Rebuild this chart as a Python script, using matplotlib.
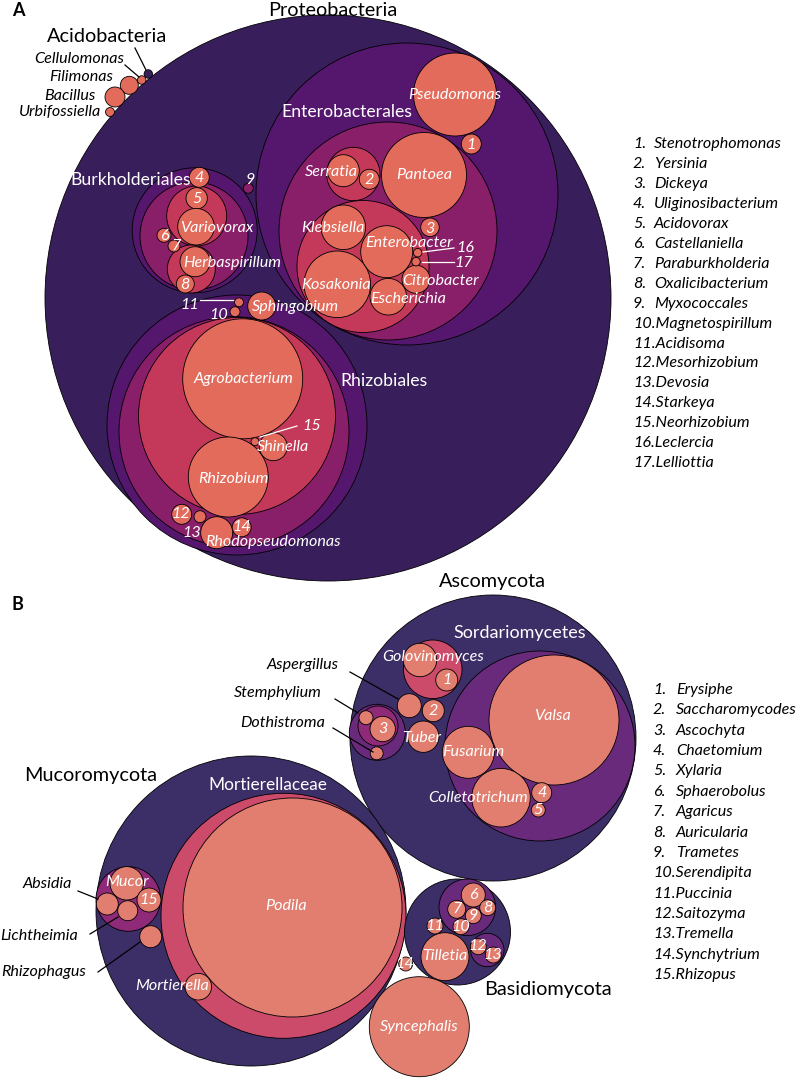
import numpy as np
import matplotlib
matplotlib.use("Agg")
import matplotlib.pyplot as plt
from matplotlib.patches import Circle

plt.rcParams['font.family'] = ['Lato', 'DejaVu Sans']

# ---------------- DATA (abundance ~ circle area) ----------------
A_taxa = ["Proteobacteria", "Enterobacterales", "Enterobacteriaceae_grp", "Pseudomonas", "1",
          "Serratia_grp", "Serratia", "2", "Pantoea", "3", "Entero_grp", "Klebsiella", "Enterobacter",
          "Kosakonia", "Escherichia", "Citrobacter", "16", "17",
          "Burkholderiales", "Burk_inner", "Comamonad_grp", "5", "Variovorax", "Oxalo_grp",
          "Herbaspirillum", "8", "4", "6", "7", "9",
          "Rhizobiales", "Rhizo_mid", "Rhizo_inner", "Agrobacterium", "Rhizobium", "Shinella", "15",
          "12", "13", "Rhodopseudomonas", "14", "Sphingobium", "10", "11",
          "Acidobacteria", "Cellulomonas", "Filimonas", "Bacillus", "Urbifossiella"]
A_rank = ["phylum", "order", "family", "genus", "genus",
          "group", "genus", "genus", "genus", "genus", "group", "genus", "genus",
          "genus", "genus", "genus", "genus", "genus",
          "order", "family", "group", "genus", "genus", "group",
          "genus", "genus", "genus", "genus", "genus", "family",
          "order", "family", "group", "genus", "genus", "genus", "genus",
          "genus", "genus", "genus", "genus", "genus", "genus", "genus",
          "phylum", "genus", "genus", "genus", "genus"]
A_abund = [800.9, 228.0, 118.8, 17.22, 1.0,
           7.13, 2.56, 1.0, 18.06, 0.86, 43.56, 4.97, 6.76,
           11.09, 3.35, 1.96, 0.18, 0.18,
           39.06, 29.16, 9.0, 1.14, 3.35, 5.76,
           2.25, 0.81, 1.0, 0.49, 0.36, 0.25,
           169.0, 132.25, 97.0, 36.0, 16.0, 1.96, 0.16,
           1.0, 0.36, 2.56, 0.9, 1.96, 0.25, 0.2,
           0.18, 0.18, 0.81, 1.0, 0.2]

B_taxa = ["Ascomycota", "Sordariomycetes", "Valsa", "Fusarium", "Colletotrichum", "4", "5",
          "Erysiph_grp", "Golovinomyces", "1", "Aspergillus", "2", "Tuber",
          "Dothideo_grp", "Dothideo_inner", "3", "Stemphylium", "Dothistroma",
          "Mucoromycota", "Mortierellaceae", "Podila", "Mortierella", "Mucorales",
          "Mucor", "15", "Absidia", "Lichtheimia", "Rhizophagus",
          "Basidiomycota", "Agaricomycetes", "6", "7", "8", "9", "10", "11",
          "Tilletia", "Tremellomycetes", "12", "13", "14", "Syncephalis"]
B_rank = ["phylum", "class", "genus", "genus", "genus", "genus", "genus",
          "family", "genus", "genus", "genus", "genus", "genus",
          "class", "order", "genus", "genus", "genus",
          "phylum", "family", "genus", "genus", "order",
          "genus", "genus", "genus", "genus", "genus",
          "phylum", "class", "genus", "genus", "genus", "genus", "genus", "genus",
          "genus", "class", "genus", "genus", "genus", "genus"]
B_abund = [204.5, 90.25, 42.25, 6.76, 8.58, 1.0, 0.49,
           8.58, 2.79, 1.21, 1.44, 1.21, 2.46,
           7.84, 4.0, 1.61, 0.49, 0.42,
           240.25, 150.06, 119.9, 1.77, 10.43,
           2.79, 1.44, 1.21, 1.0, 1.21,
           28.09, 8.01, 1.44, 0.81, 0.64, 0.64, 0.64, 0.64,
           5.76, 2.79, 0.64, 0.64, 0.49, 25.0]

A_legend = ["Stenotrophomonas", "Yersinia", "Dickeya", "Uliginosibacterium", "Acidovorax",
            "Castellaniella", "Paraburkholderia", "Oxalicibacterium", "Myxococcales",
            "Magnetospirillum", "Acidisoma", "Mesorhizobium", "Devosia", "Starkeya",
            "Neorhizobium", "Leclercia", "Lelliottia"]
B_legend = ["Erysiphe", "Saccharomycodes", "Ascochyta", "Chaetomium", "Xylaria",
            "Sphaerobolus", "Agaricus", "Auricularia", "Trametes", "Serendipita",
            "Puccinia", "Saitozyma", "Tremella", "Synchytrium", "Rhizopus"]

# ---------------- LAYOUT (packing centres, pixel space) ----------------
A_centre = {
    "Proteobacteria": (328, 298), "Enterobacterales": (407, 194), "Enterobacteriaceae_grp": (388, 231),
    "Pseudomonas": (455, 94.5), "1": (471.3, 144), "Serratia_grp": (353.3, 174), "Serratia": (343.3, 170.7),
    "2": (369.3, 179.3), "Pantoea": (424, 175), "3": (430, 227.3), "Entero_grp": (363, 266.5),
    "Klebsiella": (343.3, 227.3), "Enterobacter": (386.7, 251.7), "Kosakonia": (337.3, 284.3),
    "Escherichia": (388.3, 296.7), "Citrobacter": (416, 279.3), "16": (417.7, 252.7), "17": (416, 261.7),
    "Burkholderiales": (194.7, 230.3), "Burk_inner": (194, 236), "Comamonad_grp": (196.7, 216),
    "5": (196.7, 198.3), "Variovorax": (196, 226.7), "Oxalo_grp": (191.3, 269), "Herbaspirillum": (195, 261.7),
    "8": (185.3, 284), "4": (199.3, 177.3), "6": (164, 235.3), "7": (174, 246), "9": (248.3, 188.3),
    "Rhizobiales": (237, 425), "Rhizo_mid": (234, 431.7), "Rhizo_inner": (237, 416),
    "Agrobacterium": (242.7, 378.8), "Rhizobium": (228.3, 477), "Shinella": (273.3, 446.7), "15": (255, 441.7),
    "12": (181.7, 514.3), "13": (200, 516.7), "Rhodopseudomonas": (216.7, 532.7), "14": (241.7, 527.3),
    "Sphingobium": (261.7, 306), "10": (235, 311.7), "11": (239, 302.3),
    "Acidobacteria": (148.3, 74), "Cellulomonas": (141.7, 80), "Filimonas": (129.3, 85.3),
    "Bacillus": (115, 97), "Urbifossiella": (110, 112),
}
B_centre = {
    "Ascomycota": (493, 738), "Sordariomycetes": (540, 746), "Valsa": (554, 720), "Fusarium": (468.3, 752.3),
    "Colletotrichum": (501, 797.7), "4": (541.7, 792.7), "5": (538.3, 810),
    "Erysiph_grp": (432.7, 669.3), "Golovinomyces": (420, 660), "1": (446.7, 680),
    "Aspergillus": (409.3, 705.7), "2": (433.3, 710.7), "Tuber": (423.3, 736.7),
    "Dothideo_grp": (377.3, 732.3), "Dothideo_inner": (378, 726), "3": (382.7, 729),
    "Stemphylium": (366, 717.7), "Dothistroma": (376.7, 753.3),
    "Mucoromycota": (251, 911), "Mortierellaceae": (283.5, 915.8), "Podila": (292.5, 907.5),
    "Mortierella": (198.3, 986.7), "Mucorales": (128.3, 899), "Mucor": (126.7, 883.3), "15": (149, 900),
    "Absidia": (107.3, 904), "Lichtheimia": (127.7, 910.7), "Rhizophagus": (150.7, 936.7),
    "Basidiomycota": (457.5, 932), "Agaricomycetes": (467.3, 907.3), "6": (473.3, 895), "7": (456.7, 909.3),
    "8": (487.7, 907.7), "9": (473.3, 915.7), "10": (461, 926.7), "11": (435, 926),
    "Tilletia": (445, 956.7), "Tremellomycetes": (487.3, 950), "12": (478.3, 946.7), "13": (493.3, 955),
    "14": (405.7, 964), "Syncephalis": (419.3, 1026.7),
}

# ---------------- STYLE ----------------
A_colors = {"phylum": "#381f5c", "order": "#55176d", "family": "#891f69", "group": "#c4395a",
            "genus": "#e26b5c", "Acidobacteria": "#381f5c"}
B_colors = {"phylum": "#3c2e67", "class": "#6a2a7c", "order": "#8f2a79", "family": "#cc4a6a",
            "genus": "#e17e6f"}
FS_GENUS = 11.6
FS_PHYLUM = 14.3
FS_ORDER = 12.7

W, H = 797, 1078
fig = plt.figure(figsize=(W / 100, H / 100), dpi=100)
ax = fig.add_axes([0, 0, 1, 1])
ax.set_xlim(0, W)
ax.set_ylim(H, 0)
ax.axis('off')

SCALE = 10.0  # radius = SCALE * sqrt(abundance)


def draw(taxa, ranks, abund, centres, colors):
    for t, rk, v in zip(taxa, ranks, abund):
        cx, cy = centres[t]
        col = colors[t] if t in colors else colors[rk]
        ax.add_patch(Circle((cx, cy), SCALE * np.sqrt(v), facecolor=col,
                            edgecolor='black', lw=0.6, zorder=2))


draw(A_taxa, A_rank, A_abund, A_centre, A_colors)
draw(B_taxa, B_rank, B_abund, B_centre, B_colors)


def T(x, y, s, size=FS_GENUS, color='white', style='italic', ha='center', weight='normal', va='center'):
    ax.text(x, y, s, fontsize=size, color=color, style=style, ha=ha, va=va,
            weight=weight, zorder=5)


def L(x0, y0, x1, y1, color='black'):
    ax.plot([x0, x1], [y0, y1], color=color, lw=0.9, zorder=4)


# Panel labels
T(12, 10, "A", 13, 'black', 'normal', 'left', 'bold')
T(12, 604, "B", 13, 'black', 'normal', 'left', 'bold')

# ---- Panel A labels ----
T(333, 16.5, "Proteobacteria", FS_PHYLUM, 'black', 'normal', va='baseline')
T(107, 37, "Acidobacteria", FS_PHYLUM, 'black', 'normal')
T(124, 59, "Cellulomonas", FS_GENUS, 'black', 'italic', 'right')
T(113, 77, "Filimonas", FS_GENUS, 'black', 'italic', 'right')
T(96, 96, "Bacillus", FS_GENUS, 'black', 'italic', 'right')
T(101, 112, "Urbifossiella", FS_GENUS, 'black', 'italic', 'right')
L(135, 48, 146, 70)
L(125, 65, 139, 77)

T(347, 112, "Enterobacterales", FS_ORDER, 'white', 'normal')
T(131, 180, "Burkholderiales", FS_ORDER, 'white', 'normal')
T(384, 381, "Rhizobiales", FS_ORDER, 'white', 'normal')

for s, (x, y) in {"Pseudomonas": (455, 95), "1": (471, 145), "Serratia": (331, 172), "2": (369, 180),
                  "Pantoea": (424, 175), "3": (430, 229), "Klebsiella": (333, 228),
                  "Enterobacter": (409, 243), "Kosakonia": (336, 285), "Citrobacter": (441, 281),
                  "Escherichia": (408, 299), "16": (465, 248), "17": (464, 263),
                  "4": (199, 178), "5": (197, 199), "Variovorax": (217, 228), "6": (164, 236),
                  "7": (176, 246), "Herbaspirillum": (232, 263), "8": (185, 285), "9": (250, 180),
                  "Sphingobium": (295, 307), "10": (219, 315), "11": (190, 305),
                  "Agrobacterium": (243, 379), "Shinella": (283, 447), "15": (312, 426),
                  "Rhizobium": (233, 479), "12": (181, 514), "13": (192, 533), "14": (242, 527),
                  "Rhodopseudomonas": (273, 542)}.items():
    T(x, y, s)
L(423, 252, 454, 248, 'white')
L(422, 261.7, 454, 261.7, 'white')
L(200, 300, 233, 300, 'white')
L(260, 437, 297, 426, 'white')

# Legend A
for i, name in enumerate(A_legend):
    y = 144 + i * 19.95
    if i < 9:
        T(633, y, f"{i + 1}.", FS_GENUS, 'black', 'italic', 'left')
        T(654, y, name, FS_GENUS, 'black', 'italic', 'left')
    else:
        T(633, y, f"{i + 1}.{name}", FS_GENUS, 'black', 'italic', 'left')

# ---- Panel B labels ----
T(492, 581, "Ascomycota", FS_PHYLUM, 'black', 'normal')
T(91, 776, "Mucoromycota", FS_PHYLUM, 'black', 'normal')
T(548, 990, "Basidiomycota", FS_PHYLUM, 'black', 'normal')
T(520, 633, "Sordariomycetes", 13, 'white', 'normal')
T(268, 785, "Mortierellaceae", 12.4, 'white', 'normal')

for s, (x, y) in {"Golovinomyces": (433, 657), "1": (447, 680), "2": (433, 711), "Tuber": (422, 738),
                  "3": (383, 729), "Valsa": (553, 716), "Fusarium": (473, 752),
                  "Colletotrichum": (478, 798), "4": (542, 793), "5": (538, 810),
                  "Podila": (286, 906), "Mortierella": (172, 986), "Mucor": (127, 882), "15": (149, 900),
                  "6": (473, 895), "7": (457, 909), "8": (488, 908), "9": (473, 916), "10": (461, 927),
                  "11": (435, 926), "Tilletia": (445, 956), "12": (478, 946), "13": (493, 955),
                  "14": (405, 964), "Syncephalis": (419, 1027)}.items():
    T(x, y, s)

T(339, 665, "Aspergillus", FS_GENUS, 'black', 'italic', 'right')
T(322, 693, "Stemphylium", FS_GENUS, 'black', 'italic', 'right')
T(325, 723, "Dothistroma", FS_GENUS, 'black', 'italic', 'right')
L(350, 672, 398, 699)
L(335, 699, 358, 713)
L(333, 728, 373, 752)
T(72, 884, "Absidia", FS_GENUS, 'black', 'italic', 'right')
T(78, 936, "Lichtheimia", FS_GENUS, 'black', 'italic', 'right')
T(86, 972, "Rhizophagus", FS_GENUS, 'black', 'italic', 'right')
L(78, 891, 98, 899)
L(90, 934, 118, 917)
L(98, 972, 140, 942)

# Legend B
for i, name in enumerate(B_legend):
    y = 690 + i * 20.36
    if i < 9:
        T(653, y, f"{i + 1}.", FS_GENUS, 'black', 'italic', 'left')
        T(676, y, name, FS_GENUS, 'black', 'italic', 'left')
    else:
        T(653, y, f"{i + 1}.{name}", FS_GENUS, 'black', 'italic', 'left')

fig.savefig("out.png", dpi=100)
